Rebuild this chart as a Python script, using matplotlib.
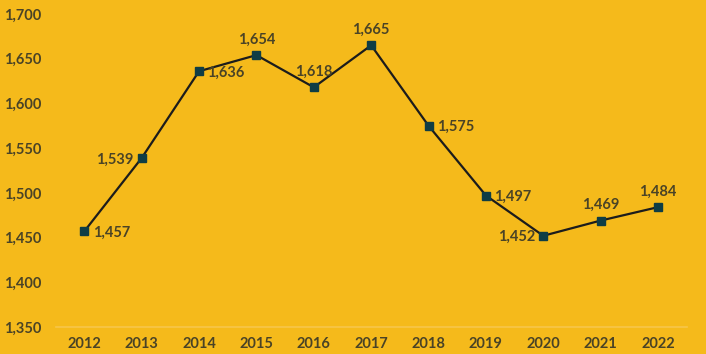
import matplotlib
matplotlib.use("Agg")
import matplotlib.pyplot as plt
from matplotlib.ticker import FuncFormatter

years = [2012, 2013, 2014, 2015, 2016, 2017, 2018, 2019, 2020, 2021, 2022]
values = [1457, 1539, 1636, 1654, 1618, 1665, 1575, 1497, 1452, 1469, 1484]
label_pos = ["right", "left", "right", "above", "above", "above", "right", "right", "left", "above", "above"]
yticks = [1350, 1400, 1450, 1500, 1550, 1600, 1650, 1700]

bg = "#F5BA1B"
txt = "#4A4326"
fs = 10.5
plt.rcParams['font.family'] = ['Lato', 'DejaVu Sans']

fig = plt.figure(figsize=(7.06, 3.54), dpi=100, facecolor=bg)
ax = fig.add_axes([0.0788, 0.0763, 0.8939, 0.8842], facecolor=bg)
x = list(range(len(years)))
ax.plot(x, values, color="#1c1c1c", lw=1.6, zorder=2)
ax.plot(x, values, ls="none", marker="s", ms=6, color="#0F3D45", zorder=3)

for xi, v, p in zip(x, values, label_pos):
    s = f"{v:,}"
    if p == "right":
        ax.annotate(s, (xi, v), xytext=(6, -1), textcoords="offset points", ha="left", va="center",
                    fontsize=fs, fontweight="bold", color=txt)
    elif p == "left":
        ax.annotate(s, (xi, v), xytext=(-6, -1), textcoords="offset points", ha="right", va="center",
                    fontsize=fs, fontweight="bold", color=txt)
    else:
        ax.annotate(s, (xi, v), xytext=(0, 6), textcoords="offset points", ha="center", va="bottom",
                    fontsize=fs, fontweight="bold", color=txt)

ax.set_xlim(-0.5, len(years) - 0.5)
ax.set_ylim(1350, 1700)
ax.set_yticks(yticks)
ax.yaxis.set_major_formatter(FuncFormatter(lambda v, _: f"{int(v):,}"))
ax.set_xticks(x)
ax.set_xticklabels([str(y) for y in years])
for s in ["top", "right", "left"]:
    ax.spines[s].set_visible(False)
ax.spines["bottom"].set_color("#F7C64A")
ax.spines["bottom"].set_linewidth(1.2)
ax.tick_params(axis="both", length=0, labelsize=fs, labelcolor=txt)
ax.tick_params(axis="y", pad=10)
ax.tick_params(axis="x", pad=7)
for lab in ax.get_xticklabels() + ax.get_yticklabels():
    lab.set_fontweight("bold")

fig.savefig("out.png", dpi=100, facecolor=bg)
